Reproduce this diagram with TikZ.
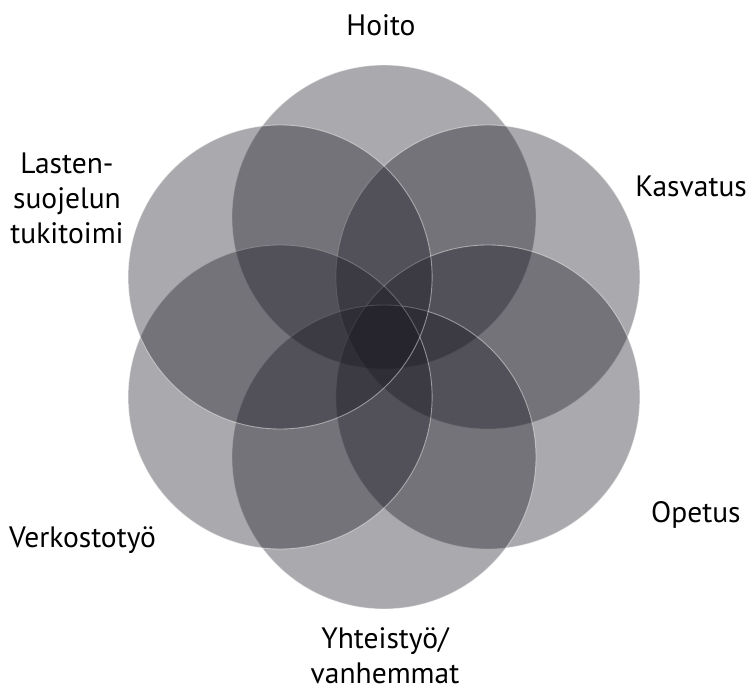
\documentclass[tikz,border=0pt]{standalone}
\usepackage{fontspec}
\setmainfont{PT Sans}
\begin{document}
\begin{tikzpicture}[x=1pt,y=-1pt,
  petal/.style={circle, inner sep=0pt, minimum size=304pt,
    fill={rgb,255:red,24;green,22;blue,32}, fill opacity=0.37,
    draw=white, draw opacity=0.45, line width=0.9pt},
  lbl/.style={font=\fontsize{29.5}{35}\selectfont, align=center, text=black, inner sep=0pt}]
\useasboundingbox (0,0) rectangle (748,692);
\node[petal] (hoitoC) at (384,217) {};
\node[petal] (kasvC) at (487.9,277) {};
\node[petal] (opetC) at (487.9,397) {};
\node[petal] (yhtC) at (384,457) {};
\node[petal] (verkC) at (280.1,397) {};
\node[petal] (lastC) at (280.1,277) {};
\node[lbl] (hoitoL) at (381,25) {Hoito};
\node[lbl, anchor=east] (kasvL) at (747,186) {Kasvatus};
\node[lbl, anchor=west] (opetL) at (651,515) {Opetus};
\node[lbl, anchor=west] (verkL) at (9,540) {Verkostotyö};
\node[lbl] (lastL) at (67,198) {Lasten-\\suojelun\\tukitoimi};
\node[lbl] (yhtL) at (385,656) {Yhteistyö/\\vanhemmat};
\end{tikzpicture}
\end{document}
